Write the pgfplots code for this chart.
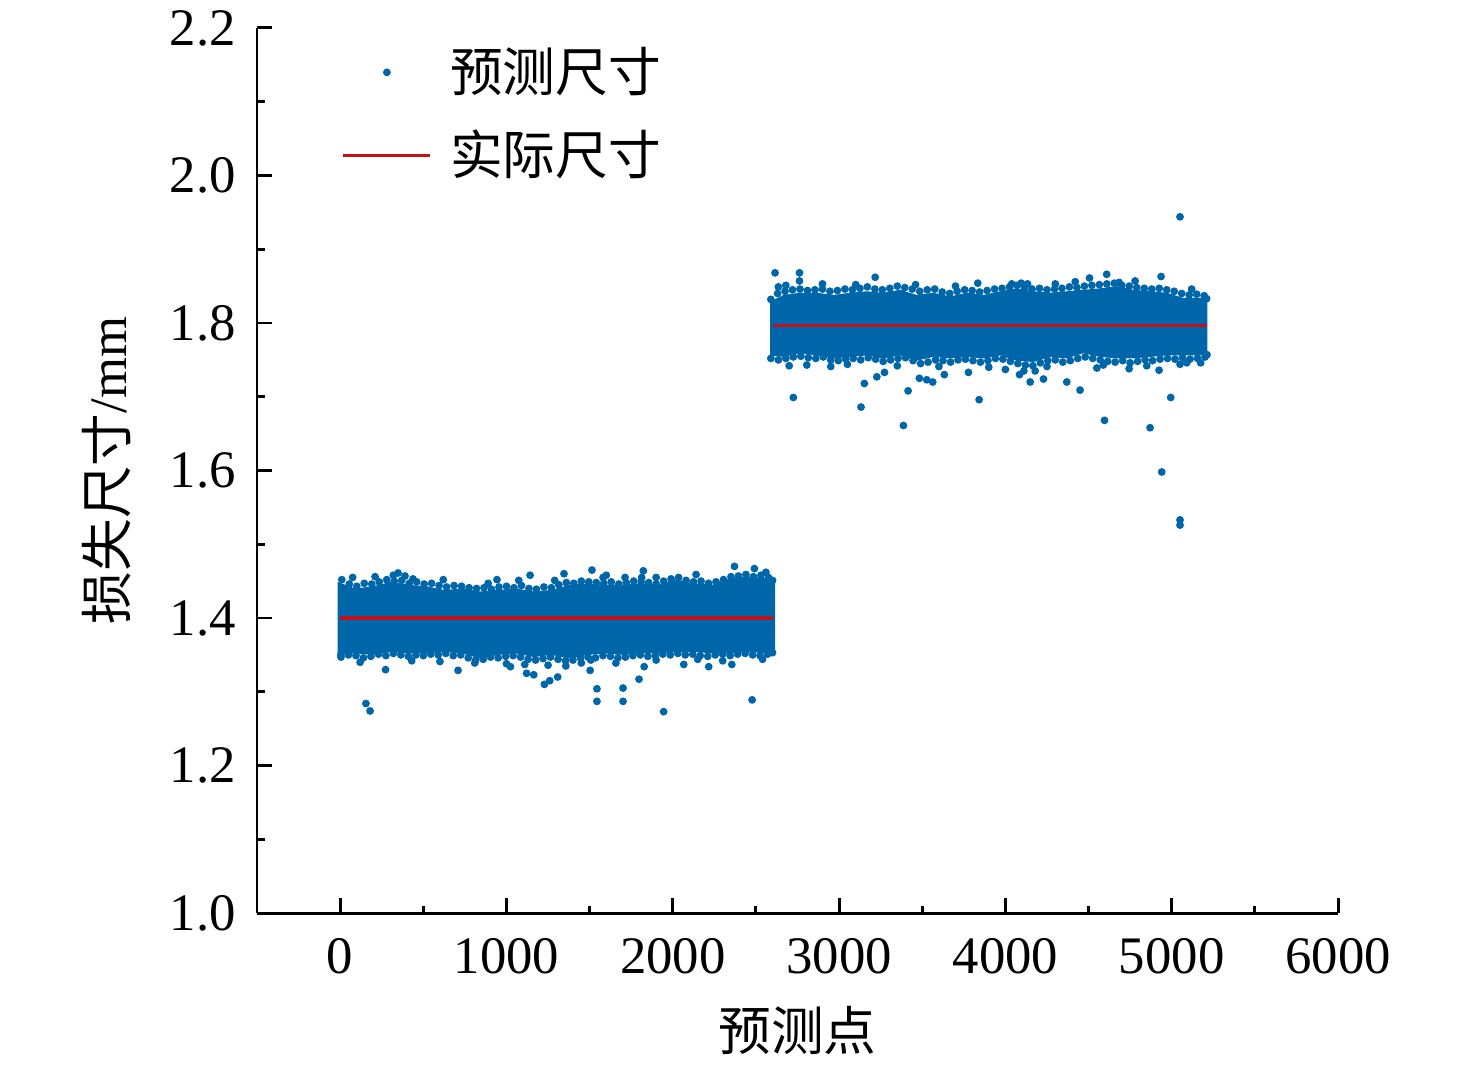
\documentclass[border=0pt]{standalone}
\usepackage{pgfplots}
\pgfplotsset{compat=1.18}
\usepackage{fontspec}
\setmainfont{Liberation Serif}
\newfontfamily\cjk{Noto Sans CJK SC}
\definecolor{ptblue}{RGB}{0,102,170}
\definecolor{linered}{RGB}{196,16,24}
\begin{document}
\begin{tikzpicture}[font=\fontsize{15}{18}\selectfont]
\begin{axis}[name=ax, scale only axis, width=108.1mm, height=88.5mm,
 xmin=-500, xmax=6000, ymin=1, ymax=2.2,
 axis lines=left, axis line style={-, line width=0.85pt},
 xtick={0,1000,2000,3000,4000,5000,6000},
 ytick={1,1.2,1.4,1.6,1.8,2,2.2},
 minor x tick num=1, minor y tick num=1,
 scaled x ticks=false, scaled y ticks=false,
 tick style={line width=0.85pt, black}, major tick length=1.5mm, minor tick length=0.75mm, tick align=inside,
 /pgf/number format/assume math mode=true,
 yticklabel style={/pgf/number format/fixed, /pgf/number format/fixed zerofill, /pgf/number format/precision=1, xshift=-0.9mm},
 xticklabel style={/pgf/number format/1000 sep={}, yshift=-1.35mm},
 xlabel={{\cjk 预测点}}, ylabel={{\cjk 损失尺寸}/mm},
 xlabel style={at={(axis description cs:0.5,-0.1322)}, anchor=center},
 ylabel style={at={(axis description cs:-0.1388,0.5)}, anchor=center},
 legend image code/.code={\draw[mark repeat=2,mark phase=2,#1] plot coordinates {(0mm,0mm) (4.35mm,0mm) (8.7mm,0mm)};},
 legend style={draw=none, fill=none, at={(axis description cs:0.0778,0.9866)}, anchor=north west, row sep=1.9mm, inner sep=0pt,
   /tikz/every odd column/.append style={column sep=1.1mm}},
 legend cell align=left,
]
% dense band 1 (envelope of the predicted points)
\addplot[fill=ptblue, draw=none, forget plot] coordinates {
(-15,1.449)(90,1.440)(198,1.443)(305,1.449)(412,1.445)(520,1.443)(627,1.438)(734,1.440)(842,1.436)(949,1.438)(1056,1.440)(1164,1.436)(1271,1.438)(1378,1.445)(1486,1.447)(1593,1.445)(1701,1.445)(1808,1.447)(1915,1.445)(2022,1.452)(2130,1.447)(2237,1.445)(2345,1.454)(2452,1.456)(2559,1.454)(2615,1.449)
(2615,1.354)(2559,1.352)(2452,1.354)(2345,1.352)(2237,1.352)(2130,1.354)(2022,1.354)(1915,1.352)(1808,1.352)(1701,1.350)(1593,1.352)(1486,1.350)(1378,1.345)(1271,1.350)(1164,1.347)(1056,1.352)(949,1.350)(842,1.345)(734,1.352)(627,1.354)(520,1.352)(412,1.352)(305,1.354)(198,1.350)(90,1.352)(-15,1.350)
};
% dense band 2
\addplot[fill=ptblue, draw=none, forget plot] coordinates {
(2585,1.829)(2665,1.838)(2766,1.841)(2866,1.841)(2966,1.838)(3066,1.841)(3166,1.843)(3266,1.841)(3367,1.845)(3467,1.838)(3567,1.841)(3667,1.836)(3768,1.841)(3868,1.838)(3968,1.843)(4068,1.847)(4168,1.843)(4269,1.841)(4369,1.843)(4469,1.845)(4569,1.847)(4669,1.850)(4770,1.845)(4870,1.843)(4970,1.841)(5070,1.834)(5170,1.834)(5215,1.831)
(5215,1.759)(5170,1.756)(5070,1.756)(4970,1.756)(4870,1.754)(4770,1.752)(4669,1.752)(4569,1.754)(4469,1.759)(4369,1.752)(4269,1.754)(4168,1.747)(4068,1.749)(3968,1.756)(3868,1.752)(3768,1.754)(3667,1.752)(3567,1.754)(3467,1.749)(3367,1.756)(3266,1.752)(3166,1.756)(3066,1.754)(2966,1.752)(2866,1.756)(2766,1.759)(2665,1.754)(2585,1.756)
};
% predicted points (edges and outliers)
\addplot[only marks, mark=*, mark size=0.9pt, color=ptblue, mark options={draw=ptblue, fill=ptblue}] coordinates {
(155,1.284)(180,1.274)(273,1.330)(709,1.329)(1121,1.325)(1164,1.323)(1228,1.310)(1260,1.315)(1308,1.320)(1503,1.329)(1544,1.304)(1544,1.287)(1701,1.305)(1701,1.287)(1797,1.317)(1828,1.334)(1945,1.273)(2066,1.337)(2216,1.334)(2355,1.337)(2477,1.289)
(809,1.339)(1024,1.334)(1110,1.337)(1357,1.335)(1507,1.343)(1658,1.339)(4,1.350)
(320,1.458)(348,1.461)(438,1.453)(943,1.452)(1074,1.451)(1142,1.458)(1346,1.460)(1514,1.465)(1581,1.455)(1713,1.455)(1813,1.455)(1823,1.464)(2371,1.470)(2491,1.467)
(75,1.455)(210,1.456)(390,1.457)(620,1.452)(890,1.447)(1290,1.451)(1600,1.458)(1900,1.455)(2140,1.459)(2560,1.462)
(120,1.340)(430,1.342)(600,1.341)(1000,1.338)(1250,1.336)(1450,1.339)(1900,1.343)(2150,1.344)(2300,1.342)(2540,1.344)
(10,1.452)(55,1.446)(100,1.443)(145,1.447)(190,1.446)(235,1.449)(280,1.452)(325,1.450)(370,1.451)(415,1.447)(460,1.449)(505,1.446)(550,1.447)(595,1.444)(640,1.442)(685,1.444)(730,1.443)(775,1.441)(820,1.440)(865,1.441)(910,1.439)(955,1.442)(1000,1.443)(1045,1.441)(1090,1.444)(1135,1.440)(1180,1.439)(1225,1.442)(1270,1.441)(1315,1.445)(1360,1.448)(1405,1.447)(1450,1.450)(1495,1.449)(1540,1.448)(1585,1.447)(1630,1.449)(1675,1.446)(1720,1.448)(1765,1.450)(1810,1.449)(1855,1.448)(1900,1.446)(1945,1.450)(1990,1.453)(2035,1.455)(2080,1.451)(2125,1.449)(2170,1.450)(2215,1.447)(2260,1.449)(2305,1.452)(2350,1.456)(2395,1.457)(2440,1.459)(2485,1.456)(2530,1.458)(2575,1.455)(2600,1.451)
(5,1.347)(50,1.350)(95,1.349)(140,1.346)(185,1.348)(230,1.351)(275,1.349)(320,1.352)(365,1.350)(410,1.348)(455,1.350)(500,1.349)(545,1.351)(590,1.350)(635,1.352)(680,1.349)(725,1.350)(770,1.346)(815,1.343)(860,1.344)(905,1.347)(950,1.346)(995,1.348)(1040,1.349)(1085,1.347)(1130,1.344)(1175,1.343)(1220,1.345)(1265,1.347)(1310,1.344)(1355,1.342)(1400,1.343)(1445,1.346)(1490,1.347)(1535,1.346)(1580,1.349)(1625,1.348)(1670,1.346)(1715,1.347)(1760,1.349)(1805,1.350)(1850,1.348)(1895,1.349)(1940,1.351)(1985,1.350)(2030,1.352)(2075,1.350)(2120,1.351)(2165,1.349)(2210,1.348)(2255,1.350)(2300,1.351)(2345,1.349)(2390,1.351)(2435,1.352)(2480,1.350)(2525,1.349)(2570,1.351)(2600,1.353)
(2615,1.868)(2762,1.868)(2762,1.857)(2635,1.849)(3217,1.862)(3834,1.854)(4038,1.853)(4095,1.854)(4133,1.853)(4506,1.861)(4609,1.866)(4684,1.855)(4936,1.863)
(2680,1.851)(2900,1.853)(3100,1.852)(3460,1.852)(3700,1.850)(4300,1.853)(4420,1.856)(4780,1.857)(5120,1.846)
(2700,1.742)(2950,1.741)(3050,1.744)(3350,1.742)(3600,1.741)(3900,1.740)(4000,1.737)(4250,1.741)(4550,1.739)(4850,1.742)(5050,1.744)
(2725,1.699)(3132,1.686)(3387,1.661)(3415,1.708)(3842,1.696)(4596,1.668)(4870,1.658)(4994,1.699)(3152,1.718)(3227,1.727)(3273,1.733)(3483,1.725)(3527,1.723)(3563,1.720)(3633,1.730)(3778,1.733)(4085,1.730)(4149,1.720)(4229,1.724)(4369,1.720)(4449,1.709)(4111,1.735)(4179,1.735)(4744,1.738)(4924,1.736)(2806,1.743)(5174,1.746)(4589,1.743)(5090,1.746)
(5050,1.944)(5050,1.533)(5050,1.526)(4940,1.598)
(2590,1.832)(2630,1.840)(2675,1.843)(2720,1.845)(2765,1.846)(2810,1.844)(2855,1.845)(2900,1.846)(2945,1.843)(2990,1.844)(3035,1.846)(3080,1.845)(3125,1.847)(3170,1.849)(3215,1.846)(3260,1.845)(3305,1.847)(3350,1.850)(3395,1.848)(3440,1.846)(3485,1.843)(3530,1.845)(3575,1.846)(3620,1.842)(3665,1.840)(3710,1.843)(3755,1.845)(3800,1.844)(3845,1.842)(3890,1.844)(3935,1.846)(3980,1.847)(4025,1.849)(4070,1.851)(4115,1.848)(4160,1.846)(4205,1.847)(4250,1.845)(4295,1.846)(4340,1.847)(4385,1.849)(4430,1.848)(4475,1.850)(4520,1.851)(4565,1.852)(4610,1.853)(4655,1.854)(4700,1.851)(4745,1.850)(4790,1.848)(4835,1.847)(4880,1.846)(4925,1.847)(4970,1.845)(5015,1.843)(5060,1.840)(5105,1.838)(5150,1.839)(5195,1.837)(5210,1.833)
(2590,1.752)(2635,1.750)(2680,1.752)(2725,1.754)(2770,1.755)(2815,1.753)(2860,1.752)(2905,1.754)(2950,1.750)(2995,1.749)(3040,1.751)(3085,1.752)(3130,1.750)(3175,1.753)(3220,1.751)(3265,1.748)(3310,1.750)(3355,1.752)(3400,1.753)(3445,1.749)(3490,1.745)(3535,1.747)(3580,1.750)(3625,1.749)(3670,1.747)(3715,1.750)(3760,1.751)(3805,1.749)(3850,1.747)(3895,1.749)(3940,1.752)(3985,1.751)(4030,1.748)(4075,1.745)(4120,1.743)(4165,1.742)(4210,1.746)(4255,1.749)(4300,1.750)(4345,1.747)(4390,1.749)(4435,1.752)(4480,1.754)(4525,1.752)(4570,1.750)(4615,1.748)(4660,1.747)(4705,1.749)(4750,1.746)(4795,1.748)(4840,1.750)(4885,1.749)(4930,1.751)(4975,1.752)(5020,1.751)(5065,1.753)(5110,1.751)(5155,1.752)(5200,1.754)(5212,1.757)
};
\addlegendentry{{\cjk 预测尺寸}}
% actual size
\addplot[linered, line width=0.9pt] coordinates {(0,1.4)(2600,1.4)};
\addlegendentry{{\cjk 实际尺寸}}
\addplot[linered, line width=0.9pt, forget plot] coordinates {(2600,1.797)(5210,1.797)};
\end{axis}
\pgfresetboundingbox
\path[use as bounding box] ([shift={(-25.7mm,-15.5mm)}]ax.south west) rectangle ([shift={(13.8mm,2.8mm)}]ax.north east);
\end{tikzpicture}
\end{document}
